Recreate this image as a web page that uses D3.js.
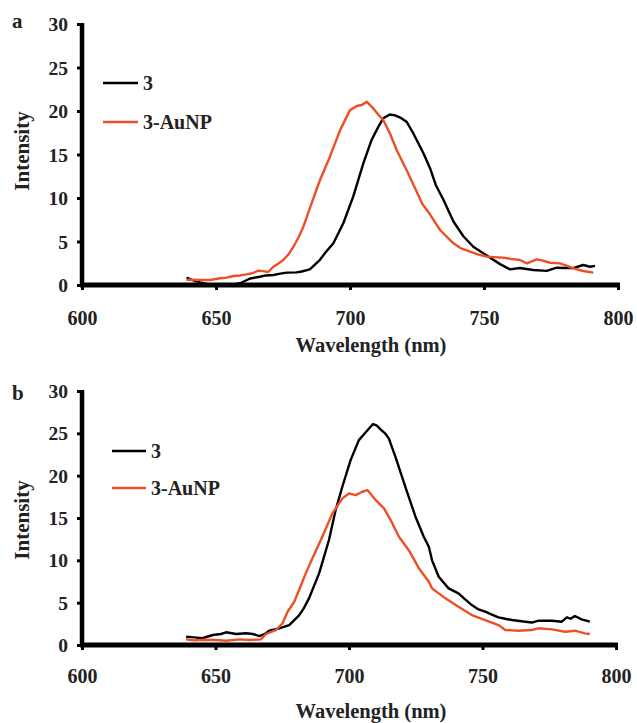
<!DOCTYPE html>
<html>
<head>
<meta charset="utf-8">
<script src="https://cdn.jsdelivr.net/npm/d3@7"></script>
<style>
  html, body { margin: 0; padding: 0; background: #fff; }
  svg text { font-family: "Liberation Serif", "Times New Roman", Times, "Nimbus Roman", "DejaVu Serif", serif !important; font-weight: bold; fill: #222; }
</style>
</head>
<body>
<svg id="chart" width="637" height="723"></svg>
<script>
// ---- data ----
const seriesNames = ["3", "3-AuNP"];
const panelLabels = ["a", "b"];
const xTicks = [600, 650, 700, 750, 800];
const yTicks = [0, 5, 10, 15, 20, 25, 30];
const xTitle = "Wavelength (nm)";
const yTitle = "Intensity";

// panel a, series "3"
const a3X = [639,641,644,647,652,656,659,662.7,666.4,668.5,671.4,674,676.4,680,682,685,688.8,691,693.8,697.5,701.2,705,708.1,710.6,712.4,714.9,716.8,719,721.1,723.6,727.4,729.9,732,734.9,738.6,742.3,746,751,756,759.7,763.4,768.4,773.4,777.1,780,783.3,787,789.6,791.4];
const a3Y = [0.85,0.6,0.3,0.1,0.05,0.05,0.2,0.75,0.95,1.1,1.15,1.3,1.42,1.45,1.55,1.8,2.9,3.8,4.8,7.1,10.15,14.0,16.7,18.2,19.16,19.6,19.5,19.2,18.77,17.44,15.14,13.4,11.5,9.77,7.3,5.6,4.4,3.4,2.4,1.8,1.95,1.72,1.62,1.99,1.95,1.95,2.3,2.1,2.2];
// panel a, series "3-AuNP"
const aAuX = [639,641,644,647.8,651.5,654,656.5,659,661.4,663.5,665.8,667.5,669.5,671.4,673,675.1,677,678.9,681,682.6,685,688.8,692.5,696.3,700,702.5,704.4,706.2,708.7,710.5,712.4,714.9,717.4,721.1,724.9,727,729.9,733.6,738.6,741.5,744.8,748,751,754,757.2,760,763.4,766,769.7,772,774.6,778.4,781,783.3,787,790.8];
const aAuY = [0.6,0.6,0.57,0.57,0.77,0.85,1.03,1.1,1.22,1.35,1.64,1.6,1.49,2.1,2.4,2.87,3.5,4.4,5.6,6.7,8.8,12.07,14.75,17.8,20.1,20.57,20.69,21.07,20.3,19.6,18.97,17.44,15.52,13.22,10.72,9.3,8.1,6.32,4.79,4.2,3.83,3.5,3.26,3.2,3.14,3.0,2.87,2.49,2.95,2.8,2.56,2.49,2.2,1.92,1.61,1.42];
// panel b, series "3"
const b3X = [639,642,645,649,652,654,657.7,661.4,664,666.4,668.5,670.1,673.9,677.6,681.3,683,685,688.8,692.5,695,697.5,700.6,703.7,706.2,709,710.5,711.8,713.5,714.9,717.4,721.1,724.9,728,729.9,731.1,733.6,737.3,741,743.5,746,748.5,751,753.5,756,758.5,761,766,768.5,771,776,779.7,781.6,783,784.6,787.1,790.2];
const b3Y = [0.98,0.9,0.8,1.18,1.3,1.5,1.3,1.38,1.3,1.06,1.3,1.69,1.97,2.36,3.5,4.3,5.5,8.46,12.4,15.94,18.69,21.84,24.2,25.1,26.1,25.9,25.47,25.0,24.4,22.23,18.69,15.15,12.79,11.6,10.0,8.06,6.69,6.1,5.4,4.72,4.2,3.93,3.6,3.27,3.1,2.95,2.75,2.65,2.87,2.87,2.75,3.27,3.1,3.42,3.03,2.75];
// panel b, series "3-AuNP"
const bAuX = [639,642,646,650,654,659,662.7,667,668.9,672.6,675.1,677,679.5,681.3,683.8,686.3,690,693.8,697.5,700,702.5,705,706.9,710,713.1,715.6,718.7,722.4,726.1,729.9,731.1,736.1,741,746,751,756,758.5,763.4,768.4,771,776,781,784.6,788.3,790.2];
const bAuY = [0.67,0.55,0.62,0.59,0.51,0.67,0.59,0.67,1.3,1.77,2.56,3.93,5.11,6.49,8.46,10.24,12.79,15.55,17.32,17.9,17.71,18.1,18.3,17.12,16.14,14.76,12.79,11.2,9.1,7.47,6.69,5.51,4.52,3.54,2.95,2.36,1.77,1.69,1.77,1.97,1.85,1.57,1.69,1.38,1.3];

// ---- layout / style ----
const colors = ["#000000", "#ee4f26"];
const panels = [
  { label: panelLabels[0], x0: 82, x1: 618, yTop: 24, yBot: 285,
    series: [[a3X, a3Y], [aAuX, aAuY]],
    legend: { x1: 103, x2: 138, ys: [83, 122] },
    labelPos: [12, 28], yTitlePos: [29, 151], xTitlePos: [371, 352], tickBaseline: 325 },
  { label: panelLabels[1], x0: 82, x1: 616, yTop: 391, yBot: 645,
    series: [[b3X, b3Y], [bAuX, bAuY]],
    legend: { x1: 112, x2: 146, ys: [451, 488] },
    labelPos: [12, 400], yTitlePos: [29, 520], xTitlePos: [371, 718], tickBaseline: 683 }
];

const svg = d3.select("#chart");

panels.forEach(p => {
  const x = d3.scaleLinear().domain([600, 800]).range([p.x0, p.x1]);
  const y = d3.scaleLinear().domain([0, 30]).range([p.yBot, p.yTop]);
  const g = svg.append("g");

  // curves
  p.series.forEach(([xs, ys], i) => {
    const pts = xs.map((d, k) => [d, ys[k]]);
    g.append("path")
      .datum(pts)
      .attr("fill", "none")
      .attr("stroke", colors[i])
      .attr("stroke-width", 2.4)
      .attr("stroke-linejoin", "round")
      .attr("d", d3.line().x(d => x(d[0])).y(d => y(d[1])));
  });

  // y axis
  const ya = g.append("g").attr("transform", `translate(${p.x0},0)`)
    .call(d3.axisLeft(y).tickValues(yTicks).tickSize(5).tickSizeOuter(0).tickPadding(9));
  ya.attr("font-family", null);
  ya.select(".domain").attr("stroke", "#000").attr("stroke-width", 4.5)
    .attr("d", `M0,${p.yTop - 1}V${p.yBot + 2}`);
  ya.selectAll(".tick line").attr("stroke", "#000").attr("stroke-width", 3);
  ya.selectAll(".tick text").attr("font-size", 19.5).attr("fill", "#222")
    .attr("font-weight", "bold").attr("dy", "0.34em");

  // x axis
  const xa = g.append("g").attr("transform", `translate(0,${p.yBot})`)
    .call(d3.axisBottom(x).tickValues(xTicks).tickSize(5).tickSizeOuter(0).tickPadding(0));
  xa.attr("font-family", null);
  xa.select(".domain").attr("stroke", "#000").attr("stroke-width", 5)
    .attr("d", `M${p.x0 - 2},0H${p.x1 + 2}`);
  xa.selectAll(".tick line").attr("stroke", "#000").attr("stroke-width", 3);
  xa.selectAll(".tick text").attr("font-size", 20).attr("fill", "#222")
    .attr("font-weight", "bold")
    .attr("dy", null).attr("y", p.tickBaseline - p.yBot);

  // titles
  g.append("text").attr("x", p.xTitlePos[0]).attr("y", p.xTitlePos[1])
    .attr("text-anchor", "middle").attr("font-size", 20.5).text(xTitle);
  g.append("text").attr("transform", `translate(${p.yTitlePos[0]},${p.yTitlePos[1]}) rotate(-90)`)
    .attr("text-anchor", "middle").attr("font-size", 21).text(yTitle);
  g.append("text").attr("x", p.labelPos[0]).attr("y", p.labelPos[1])
    .attr("font-size", 21).text(p.label);

  // legend
  seriesNames.forEach((name, i) => {
    const ly = p.legend.ys[i];
    g.append("line").attr("x1", p.legend.x1).attr("x2", p.legend.x2)
      .attr("y1", ly).attr("y2", ly).attr("stroke", colors[i]).attr("stroke-width", 2.6);
    g.append("text").attr("x", p.legend.x2 + 5).attr("y", ly + 7)
      .attr("font-size", 20).text(name);
  });
});
</script>
</body>
</html>
